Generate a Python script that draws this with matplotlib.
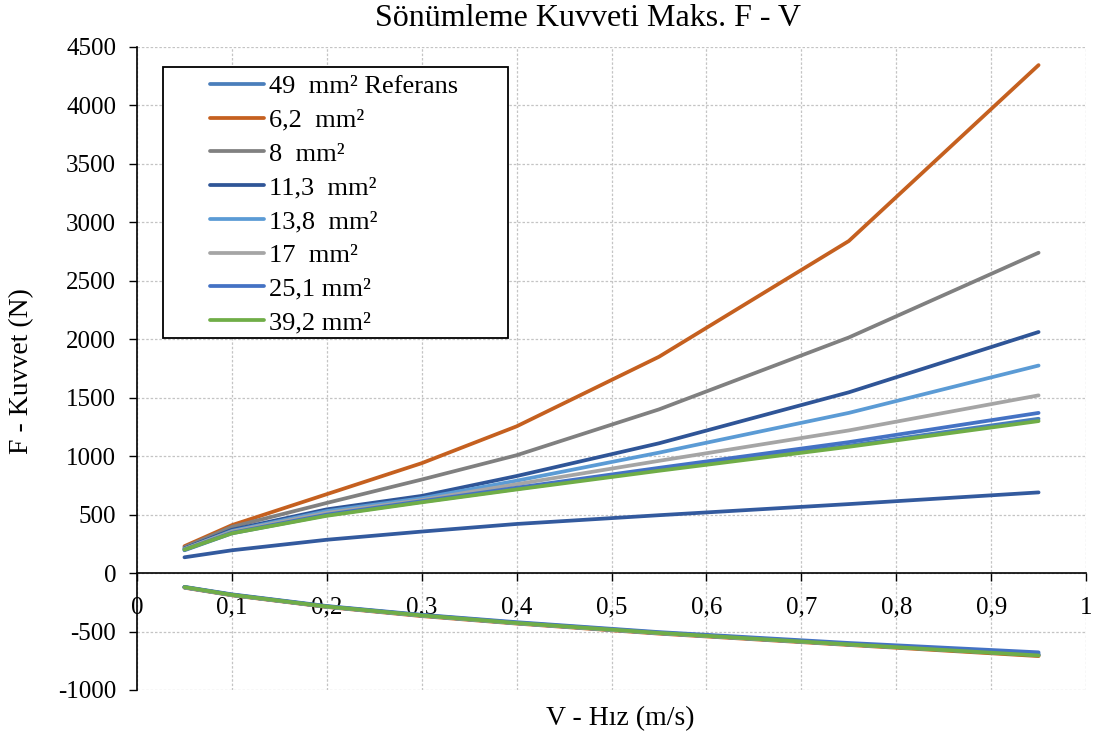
import matplotlib
matplotlib.use("Agg")
import matplotlib.pyplot as plt
from matplotlib.patches import Rectangle
from matplotlib.ticker import FixedLocator, FuncFormatter

plt.rcParams['font.family'] = ['Liberation Serif', 'DejaVu Serif']

# hız noktaları (m/s)
v = [0.05, 0.1, 0.2, 0.3, 0.4, 0.55, 0.75, 0.95]

labels = ["49  mm² Referans", "6,2  mm²", "8  mm²", "11,3  mm²",
          "13,8  mm²", "17  mm²", "25,1 mm²", "39,2 mm²"]
colors = ["#4a7ebb", "#c5601f", "#808080", "#2f5597",
          "#5b9bd5", "#a5a5a5", "#4472c4", "#70ad47"]

# basma (pozitif) kuvvetleri
f_ref  = [195, 340, 495, 610, 720, 885, 1090, 1320]
f_6_2  = [230, 410, 675, 940, 1255, 1850, 2840, 4345]
f_8    = [220, 395, 600, 800, 1008, 1400, 2015, 2740]
f_11_3 = [210, 370, 545, 660, 830, 1110, 1546, 2062]
f_13_8 = [205, 360, 530, 640, 790, 1030, 1370, 1775]
f_17   = [205, 355, 515, 625, 760, 960, 1220, 1520]
f_25_1 = [200, 345, 500, 615, 730, 900, 1120, 1370]
f_39_2 = [200, 340, 490, 605, 715, 875, 1080, 1300]
pos = [f_ref, f_6_2, f_8, f_11_3, f_13_8, f_17, f_25_1, f_39_2]

# açılma (negatif) kuvvetleri
n_ref  = [-120, -185, -285, -360, -425, -510, -605, -690]
n_6_2  = [-125, -190, -290, -368, -432, -518, -615, -710]
n_8    = [-122, -187, -287, -363, -428, -513, -610, -700]
n_11_3 = [-122, -187, -287, -363, -428, -513, -610, -700]
n_13_8 = [-122, -187, -287, -363, -428, -513, -610, -700]
n_17   = [-122, -187, -287, -363, -428, -513, -610, -700]
n_25_1 = [-118, -182, -282, -357, -420, -505, -598, -678]
n_39_2 = [-120, -186, -286, -362, -427, -512, -610, -705]
neg = [n_ref, n_6_2, n_8, n_11_3, n_13_8, n_17, n_25_1, n_39_2]

# lejantta olmayan alt eğri
f_extra = [135, 195, 285, 355, 420, 495, 590, 690]

fig = plt.figure(figsize=(10.97, 7.42), dpi=100)
ax = fig.add_axes([0.1249, 0.0701, 0.8651, 0.8666])

ax.plot(v, f_extra, color="#335a9e", lw=2.7, solid_capstyle="round")
for lab, col, p, n in zip(labels, colors, pos, neg):
    ax.plot(v, p, color=col, lw=2.7, label=lab, solid_capstyle="round")
    ax.plot(v, n, color=col, lw=2.7, solid_capstyle="round")

ax.set_xlim(0, 1)
ax.set_ylim(-1000, 4500)
ax.xaxis.set_major_locator(FixedLocator([i / 10 for i in range(11)]))
ax.yaxis.set_major_locator(FixedLocator(range(-1000, 4501, 500)))
ax.xaxis.set_major_formatter(FuncFormatter(
    lambda x, p: "0" if x == 0 else ("1" if x == 1 else f"{x:.1f}".replace(".", ","))))
ax.yaxis.set_major_formatter(FuncFormatter(lambda y, p: f"{int(y)}"))

ax.spines['top'].set_visible(False)
ax.spines['right'].set_visible(False)
ax.spines['bottom'].set_position(('data', 0))
ax.spines['left'].set_linewidth(1.2)
ax.spines['bottom'].set_linewidth(1.2)
ax.grid(True, color="#c4c4c4", linestyle=(0, (2, 1.5)), lw=0.9)
ax.set_axisbelow(True)
ax.tick_params(axis='both', labelsize=18, direction='out', length=6, width=1)
ax.tick_params(axis='y', pad=9)
ax.tick_params(axis='x', pad=11)

fig.text(0.536, 0.975, "Sönümleme Kuvveti Maks. F - V", ha='center', va='center', fontsize=23)
fig.text(0.565, 0.032, "V - Hız (m/s)", ha='center', va='center', fontsize=20)
fig.text(0.02, 0.5, "F - Kuvvet (N)", ha='center', va='center', rotation=90, fontsize=20)

# lejant çerçevesi
ax.add_patch(Rectangle((0.0274, 0.547), 0.3636, 0.422, transform=ax.transAxes,
                       facecolor='white', edgecolor='black', lw=1.3, zorder=4))
leg = ax.legend(loc='upper left', bbox_to_anchor=(0.077, 0.957), fontsize=19,
                frameon=False, handlelength=2.05, handletextpad=0.2,
                labelspacing=0.39, borderpad=0, borderaxespad=0)
leg.set_zorder(5)

fig.savefig("out.png", dpi=100)
